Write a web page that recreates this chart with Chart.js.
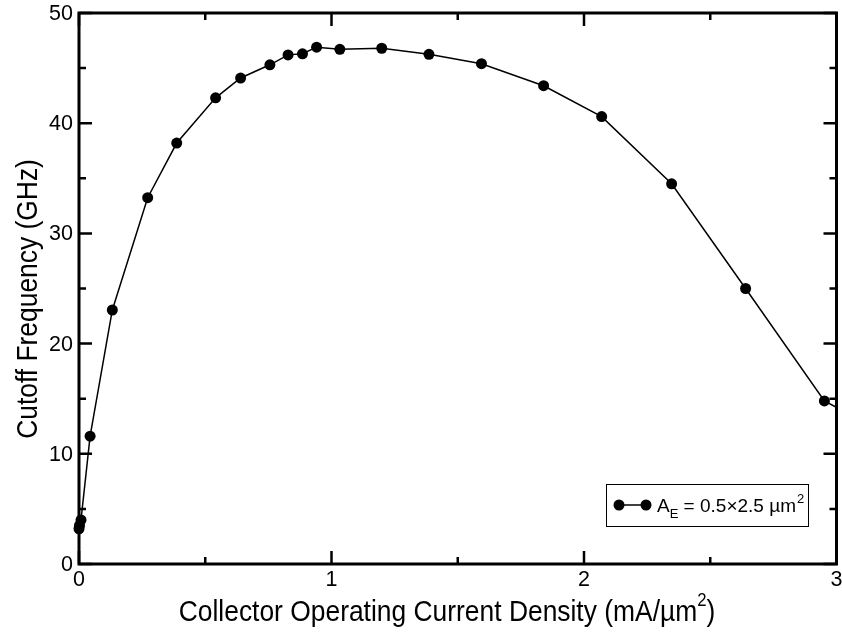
<!DOCTYPE html>
<html>
<head>
<meta charset="utf-8">
<script src="https://cdn.jsdelivr.net/npm/chart.js@4.4.0/dist/chart.umd.min.js"></script>
<style>
  body { margin: 0; background: #fff; }
  #wrap { width: 842px; height: 634px; }
</style>
</head>
<body>
<div id="wrap"><canvas id="c1" width="842" height="634"></canvas></div>
<script>
// measured data, current density (mA/um^2) vs fT (GHz)
var jc = [0.0, 0.002, 0.008, 0.044, 0.132, 0.272, 0.387, 0.541, 0.64, 0.756, 0.828, 0.885, 0.941, 1.033, 1.199, 1.386, 1.594, 1.84, 2.07, 2.347, 2.64, 2.952, 3.05];
var ft = [3.2, 3.5, 4.0, 11.6, 23.05, 33.24, 38.2, 42.3, 44.1, 45.3, 46.2, 46.3, 46.9, 46.7, 46.8, 46.25, 45.4, 43.4, 40.6, 34.5, 25.0, 14.8, 13.6];

var xTicks = [0, 1, 2, 3];
var yTicks = [0, 10, 20, 30, 40, 50];
var xTitle = "Collector Operating Current Density (mA/\u00b5m";
var yTitle = "Cutoff Frequency (GHz)";
var legendLabel = "0.5\u00d72.5 \u00b5m";

var FONT = '"Liberation Sans", Arial, sans-serif';
var SQ = 0.88; // titles look horizontally squeezed in the original

var pts = jc.map(function (x, i) {
  return { x: x, y: ft[i] };
});

var framePlugin = {
  id: "frame",
  beforeDatasetsDraw: function (chart) {
    var ctx = chart.ctx;
    var a = chart.chartArea;
    var xs = chart.scales.x, ys = chart.scales.y;
    ctx.save();
    ctx.strokeStyle = "#000";
    ctx.lineWidth = 2.5;
    // minor + major ticks, inward on all sides
    for (var v = 0; v <= 3.0001; v += 0.5) {
      var px = xs.getPixelForValue(v);
      var len = Math.abs(v - Math.round(v)) < 1e-6 ? 13 : 7;
      ctx.beginPath();
      ctx.moveTo(px, a.bottom); ctx.lineTo(px, a.bottom - len);
      ctx.moveTo(px, a.top); ctx.lineTo(px, a.top + len);
      ctx.stroke();
    }
    for (var w = 0; w <= 50.001; w += 5) {
      var py = ys.getPixelForValue(w);
      var l2 = w % 10 === 0 ? 13 : 7;
      ctx.beginPath();
      ctx.moveTo(a.left, py); ctx.lineTo(a.left + l2, py);
      ctx.moveTo(a.right, py); ctx.lineTo(a.right - l2, py);
      ctx.stroke();
    }
    ctx.lineWidth = 3;
    ctx.strokeRect(a.left, a.top, a.right - a.left, a.bottom - a.top);

    // tick labels
    ctx.fillStyle = "#000";
    ctx.font = "21.5px " + FONT;
    ctx.textAlign = "center";
    ctx.textBaseline = "top";
    xTicks.forEach(function (t) {
      ctx.fillText(String(t), xs.getPixelForValue(t), a.bottom + 5);
    });
    ctx.textAlign = "right";
    ctx.textBaseline = "middle";
    yTicks.forEach(function (t) {
      ctx.fillText(String(t), a.left - 6, ys.getPixelForValue(t) + 1);
    });

    // x title with superscript, squeezed horizontally
    ctx.textBaseline = "alphabetic";
    ctx.textAlign = "left";
    ctx.font = "30px " + FONT;
    var w1 = ctx.measureText(xTitle).width;
    ctx.font = "19px " + FONT;
    var w2 = ctx.measureText("2").width;
    ctx.font = "30px " + FONT;
    var w3 = ctx.measureText(")").width;
    var tot = (w1 + w2 + w3) * SQ;
    ctx.save();
    ctx.translate(447 - tot / 2, 621);
    ctx.scale(SQ, 1);
    ctx.fillText(xTitle, 0, 0);
    ctx.font = "19px " + FONT;
    ctx.fillText("2", w1, -15);
    ctx.font = "30px " + FONT;
    ctx.fillText(")", w1 + w2, 0);
    ctx.restore();

    // y title
    ctx.save();
    ctx.translate(37, 299);
    ctx.rotate(-Math.PI / 2);
    ctx.scale(SQ, 1);
    ctx.textAlign = "center";
    ctx.fillText(yTitle, 0, 0);
    ctx.restore();
    ctx.restore();
  },
  afterDraw: function (chart) {
    var ctx = chart.ctx;
    ctx.save();
    // legend box
    ctx.fillStyle = "#fff";
    ctx.fillRect(606, 484, 202, 42);
    ctx.strokeStyle = "#000";
    ctx.lineWidth = 1;
    ctx.strokeRect(606.5, 484.5, 202, 42);
    ctx.lineWidth = 1.5;
    ctx.beginPath();
    ctx.moveTo(619, 505); ctx.lineTo(646, 505);
    ctx.stroke();
    ctx.fillStyle = "#000";
    [619, 646].forEach(function (cx) {
      ctx.beginPath();
      ctx.arc(cx, 505, 5.5, 0, Math.PI * 2);
      ctx.fill();
    });
    ctx.textBaseline = "alphabetic";
    ctx.textAlign = "left";
    ctx.font = "19px " + FONT;
    var tx = 657, ty = 511.5;
    ctx.fillText("A", tx, ty);
    tx += ctx.measureText("A").width;
    ctx.font = "13px " + FONT;
    ctx.fillText("E", tx, ty + 6);
    tx += ctx.measureText("E").width;
    ctx.font = "19px " + FONT;
    var s = " = " + legendLabel;
    ctx.fillText(s, tx, ty);
    tx += ctx.measureText(s).width;
    ctx.font = "13px " + FONT;
    ctx.fillText("2", tx + 1, ty - 9);
    ctx.restore();
  }
};

var ctx = document.getElementById("c1").getContext("2d");
var chart = new Chart(ctx, {
  type: "line",
  data: {
    datasets: [
      {
        data: pts,
        borderColor: "#000",
        backgroundColor: "#000",
        borderWidth: 1.5,
        pointRadius: 5.5,
        pointHoverRadius: 5.5,
        pointBorderWidth: 0,
        tension: 0,
        clip: { left: 12, top: 12, bottom: 12, right: 0 }
      }
    ]
  },
  options: {
    responsive: false,
    animation: false,
    events: [],
    layout: { padding: { left: 79, right: 5, top: 13, bottom: 70 } },
    plugins: { legend: { display: false }, tooltip: { enabled: false } },
    scales: {
      x: { type: "linear", min: 0, max: 3, display: false },
      y: { type: "linear", min: 0, max: 50, display: false }
    }
  },
  plugins: [framePlugin]
});
</script>
</body>
</html>
